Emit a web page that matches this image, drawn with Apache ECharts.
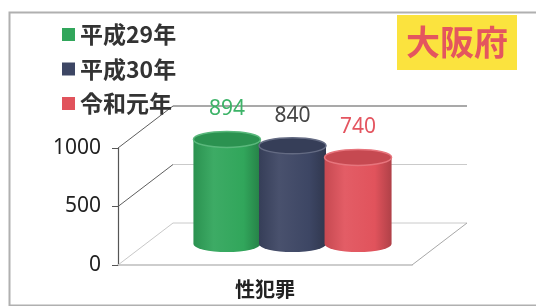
<!DOCTYPE html>
<html>
<head>
<meta charset="utf-8">
<title>大阪府 性犯罪</title>
<script src="https://cdn.jsdelivr.net/npm/echarts@6/dist/echarts.min.js"></script>
<style>
  html, body { margin: 0; background: #fff; }
  #main { width: 536px; height: 306px; }
</style>
</head>
<body>
<div id="main"></div>
<script>
var categories = ['性犯罪'];
var seriesNames = ['平成29年', '平成30年', '令和元年'];
var seriesValues = [894, 840, 740];
var yTicks = [0, 500, 1000];

var barColors = ['#31a65b', '#3d4664', '#e1535c'];
var labelColors = ['#3db368', '#454545', '#e45560'];
// depth of the fake 3d box (back wall offset)
var DEPTH_X = 55, DEPTH_Y = -42;

function shade(hex, f) {
  var n = parseInt(hex.slice(1), 16);
  var c = [(n >> 16) & 255, (n >> 8) & 255, n & 255].map(function (x) {
    x = f > 0 ? x + (255 - x) * f : x * (1 + f);
    return Math.round(x);
  });
  return 'rgb(' + c.join(',') + ')';
}

function renderWall(params, api) {
  var v = api.value(1);
  var p = api.coord([api.value(0), v]);
  var band = api.size([1, 0])[0];
  var L = p[0] - band / 2, R = p[0] + band / 2, y = p[1];
  var top = v === yTicks[yTicks.length - 1];
  var kids = [
    { type: 'line', shape: { x1: L, y1: y, x2: L + DEPTH_X, y2: y + DEPTH_Y },
      style: { stroke: v === 0 ? '#c8c8c8' : '#5e5e5e', lineWidth: 1 } },
    { type: 'line', shape: { x1: L + DEPTH_X, y1: y + DEPTH_Y, x2: R + DEPTH_X, y2: y + DEPTH_Y },
      style: { stroke: top ? '#8c8c8c' : '#cacaca', lineWidth: top ? 1.5 : 1 } }
  ];
  if (v === 0) {
    kids.push({ type: 'line', shape: { x1: R, y1: y, x2: R + DEPTH_X, y2: y + DEPTH_Y },
      style: { stroke: '#a8a8a8', lineWidth: 1 } });
  }
  return { type: 'group', children: kids };
}

function renderCylinder(params, api) {
  var k = params.seriesIndex - 1;
  var v = api.value(1);
  var base = api.coord([api.value(0), 0]);
  var topP = api.coord([api.value(0), v]);
  var band = api.size([1, 0])[0];
  var w = band * 0.228, step = band * 0.223;
  var cx = base[0] + (k - 1) * step + DEPTH_X / 2;
  var by = base[1] + DEPTH_Y / 2, ty = topP[1] + DEPTH_Y / 2;
  var rx = w / 2, ry = 8;
  var L = cx - rx, R = cx + rx;
  var col = barColors[k];
  var body = 'M' + L + ' ' + ty + 'L' + L + ' ' + by +
    'A' + rx + ' ' + ry + ' 0 0 0 ' + R + ' ' + by +
    'L' + R + ' ' + ty + 'Z';
  var cap = 'M' + L + ' ' + ty +
    'A' + rx + ' ' + ry + ' 0 0 0 ' + R + ' ' + ty +
    'A' + rx + ' ' + ry + ' 0 0 0 ' + L + ' ' + ty + 'Z';
  return {
    type: 'group',
    children: [
      { type: 'path', shape: { pathData: body },
        style: { fill: { type: 'linear', x: 0, y: 0, x2: 1, y2: 0, colorStops: [
          { offset: 0, color: shade(col, -0.12) },
          { offset: 0.3, color: shade(col, 0.06) },
          { offset: 0.75, color: col },
          { offset: 1, color: shade(col, -0.22) }
        ] } } },
      { type: 'path', shape: { pathData: cap },
        style: { fill: shade(col, -0.12), stroke: shade(col, 0.2), lineWidth: 1.5 } },
      { type: 'text',
        style: { text: String(v), x: cx, y: ty - 30, align: 'center', verticalAlign: 'middle',
          fill: labelColors[k], font: '21px "Noto Sans", sans-serif' } }
    ]
  };
}

var series = [{
  type: 'custom',
  name: 'walls',
  renderItem: renderWall,
  data: yTicks.map(function (v) { return [0, v]; }),
  z: 1,
  silent: true
}];
seriesNames.forEach(function (name, i) {
  series.push({
    type: 'custom',
    name: name,
    renderItem: renderCylinder,
    itemStyle: { color: barColors[i] },
    data: [[0, seriesValues[i]]],
    z: 2
  });
});

var chart = echarts.init(document.getElementById('main'));
chart.setOption({
  animation: false,
  backgroundColor: '#fff',
  color: barColors,
  title: {
    text: '大阪府',
    right: 19,
    top: 15,
    padding: [10, 9],
    backgroundColor: '#fbe33e',
    textStyle: { color: '#e4565e', fontSize: 34, lineHeight: 35, fontWeight: 'bold',
      fontFamily: '"Noto Sans CJK JP"' }
  },
  legend: {
    data: seriesNames,
    orient: 'vertical',
    left: 62,
    top: 23,
    padding: 0,
    itemWidth: 13,
    itemHeight: 13,
    itemGap: 11.5,
    icon: 'rect',
    selectedMode: false,
    textStyle: { color: '#333', fontSize: 23, lineHeight: 23, fontWeight: 'bold',
      fontFamily: '"Noto Sans CJK JP"' }
  },
  graphic: [{
    type: 'rect', left: 7, top: 10, silent: true,
    shape: { width: 600, height: 293 },
    style: { fill: null, stroke: '#b0b0b0', lineWidth: 2 }
  }],
  grid: { left: 118, right: 124, top: 148, bottom: 41 },
  xAxis: {
    type: 'category',
    data: categories,
    axisLine: { lineStyle: { color: '#bdbdbd', width: 1.5 } },
    axisTick: { show: false },
    axisLabel: { color: '#222', fontSize: 20, fontWeight: 'bold', margin: 14,
      fontFamily: '"Noto Sans CJK JP"' }
  },
  yAxis: {
    type: 'value',
    min: 0,
    max: 1000,
    interval: 500,
    axisLine: { show: true, lineStyle: { color: '#555', width: 1.2 } },
    axisTick: { show: true, length: 6, lineStyle: { color: '#555' } },
    axisLabel: { color: '#222', fontSize: 21, margin: 17, fontFamily: '"Noto Sans", sans-serif',
      formatter: function (v) { return String(v); } },
    splitLine: { show: false }
  },
  series: series
});
</script>
</body>
</html>
